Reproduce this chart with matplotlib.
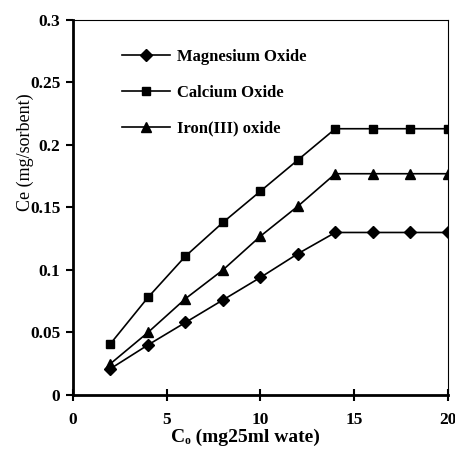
import matplotlib
matplotlib.use("Agg")
import matplotlib.pyplot as plt

plt.rcParams['font.family'] = ['Liberation Serif', 'DejaVu Serif']

x = [2, 4, 6, 8, 10, 12, 14, 16, 18, 20]
magnesium = [0.021, 0.040, 0.058, 0.076, 0.094, 0.113, 0.130, 0.130, 0.130, 0.130]
calcium = [0.041, 0.078, 0.111, 0.138, 0.163, 0.188, 0.213, 0.213, 0.213, 0.213]
iron = [0.025, 0.050, 0.077, 0.100, 0.127, 0.151, 0.177, 0.177, 0.177, 0.177]
labels = ["Magnesium Oxide", "Calcium Oxide", "Iron(III) oxide"]
xticks = [0, 5, 10, 15, 20]
yticks = [0, 0.05, 0.1, 0.15, 0.2, 0.25, 0.3]
yticklabels = ["0", "0.05", "0.1", "0.15", "0.2", "0.25", "0.3"]

fig = plt.figure(figsize=(4.56, 4.54), dpi=100)
ax = fig.add_axes([0.160, 0.130, 0.822, 0.826])

ax.plot(x, magnesium, '-D', color='black', lw=1.2, ms=6, label=labels[0])
ax.plot(x, calcium, '-s', color='black', lw=1.2, ms=6, label=labels[1])
ax.plot(x, iron, '-^', color='black', lw=1.2, ms=7, label=labels[2])

ax.set_xlim(0, 20)
ax.set_ylim(0, 0.3)
ax.set_xticks(xticks)
ax.set_yticks(yticks)
ax.set_yticklabels(yticklabels)
for lab in ax.get_xticklabels() + ax.get_yticklabels():
    lab.set_fontweight('bold')
    lab.set_fontsize(12.5)
ax.tick_params(axis='y', direction='out', length=5, width=1.5, pad=4)
ax.tick_params(axis='x', direction='inout', length=8, width=1.5, pad=8)

ax.spines['left'].set_linewidth(2)
ax.spines['bottom'].set_linewidth(2)
ax.spines['top'].set_linewidth(0.8)
ax.spines['top'].set_linestyle((0, (4, 1)))
ax.spines['right'].set_linewidth(0.8)

ax.set_ylabel("Ce (mg/sorbent)", fontsize=13)
ax.yaxis.set_label_coords(-0.105, 0.648)
ax.set_xlabel("C\u2092 (mg25ml wate)", fontsize=14, fontweight='bold')
ax.xaxis.set_label_coords(0.46, -0.09)

leg = ax.legend(loc='upper left', bbox_to_anchor=(0.09, 0.963), frameon=False,
                handlelength=2.9, labelspacing=1.2, handletextpad=0.4,
                prop={'weight': 'bold', 'size': 12})

fig.savefig("out.png", dpi=100)
